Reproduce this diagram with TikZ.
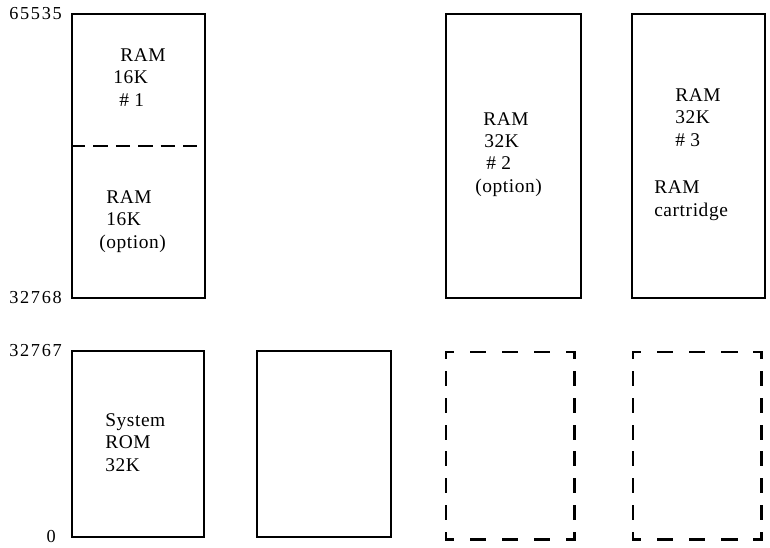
\documentclass[tikz,border=0pt]{standalone}
\usepackage{fontspec}
\setmainfont{Liberation Serif}
\usetikzlibrary{positioning}

\begin{document}
\begin{tikzpicture}[x=0.025cm, y=-0.025cm,
  blk/.style={draw, line width=1.4pt, inner sep=0pt, anchor=north west},
  slot/.style={inner sep=0pt, anchor=north west, minimum width=3.2cm, minimum height=4.675cm},
  hside/.style={line width=1.8pt, line cap=rect, dash pattern=on 0.36cm off 0.44cm, dash phase=0.18cm},
  vside/.style={line width=1.8pt, line cap=rect, dash pattern=on 0.31cm off 0.358cm, dash phase=0.155cm},
  split/.style={line width=1pt, dash pattern=on 0.36cm off 0.2cm},
  txt/.style={font=\fontsize{13.8}{15.8}\selectfont\addfontfeature{LetterSpace=3}, align=left, anchor=base west, inner sep=0pt},
  addr/.style={font=\fontsize{13}{15}\selectfont\addfontfeature{LetterSpace=9}, anchor=base east, inner sep=0pt}
]
\useasboundingbox (0,0) rectangle (770,547);

% upper half of the address space
\node[blk, minimum width=3.325cm, minimum height=7.1cm] (ram1) at (71,13) {};
\node[blk, minimum width=3.375cm, minimum height=7.1cm] (ram2) at (445,13) {};
\node[blk, minimum width=3.325cm, minimum height=7.1cm] (ram3) at (631,13) {};
\coordinate (cut) at (0,146);
\draw[split] (ram1.west |- cut) -- (ram1.east |- cut);

% lower half
\node[blk, minimum width=3.3cm, minimum height=4.65cm] (rom) at (71,350) {};
\node[blk, minimum width=3.35cm, minimum height=4.65cm] (spare) at (256,350) {};
\node[slot] (opt1) at (446,352) {};
\node[slot] (opt2) at (633,352) {};
\foreach \b in {opt1,opt2} {
  \draw[hside] (\b.north west) -- (\b.north east);
  \draw[hside] (\b.south west) -- (\b.south east);
  \draw[vside] (\b.north west) -- (\b.south west);
  \draw[vside] (\b.north east) -- (\b.south east);
}

% labels (placed by the baseline of their last line)
\node[txt] (t1) at (113,106) {\hspace*{0.175cm}RAM\\16K\\\hspace*{0.15cm}\# 1};
\node[txt] (t2) at (99,248) {\hspace*{0.175cm}RAM\\\hspace*{0.175cm}16K\\(option)};
\node[txt] (t3) at (475,192) {\hspace*{0.2cm}RAM\\\hspace*{0.225cm}32K\\\hspace*{0.275cm}\# 2\\(option)};
\node[txt] (t4) at (675,146) {RAM\\32K\\\# 3};
\node[txt] (t5) at (654,216) {RAM\\cartridge};
\node[txt] (t6) at (105,471) {System\\ROM\\32K};

% addresses
\node[addr] (a1) at (62,19) {65535};
\node[addr] (a2) at (62,303) {32768};
\node[addr] (a3) at (62,356) {32767};
\node[addr] (a4) at (56,542) {0};
\end{tikzpicture}
\end{document}
